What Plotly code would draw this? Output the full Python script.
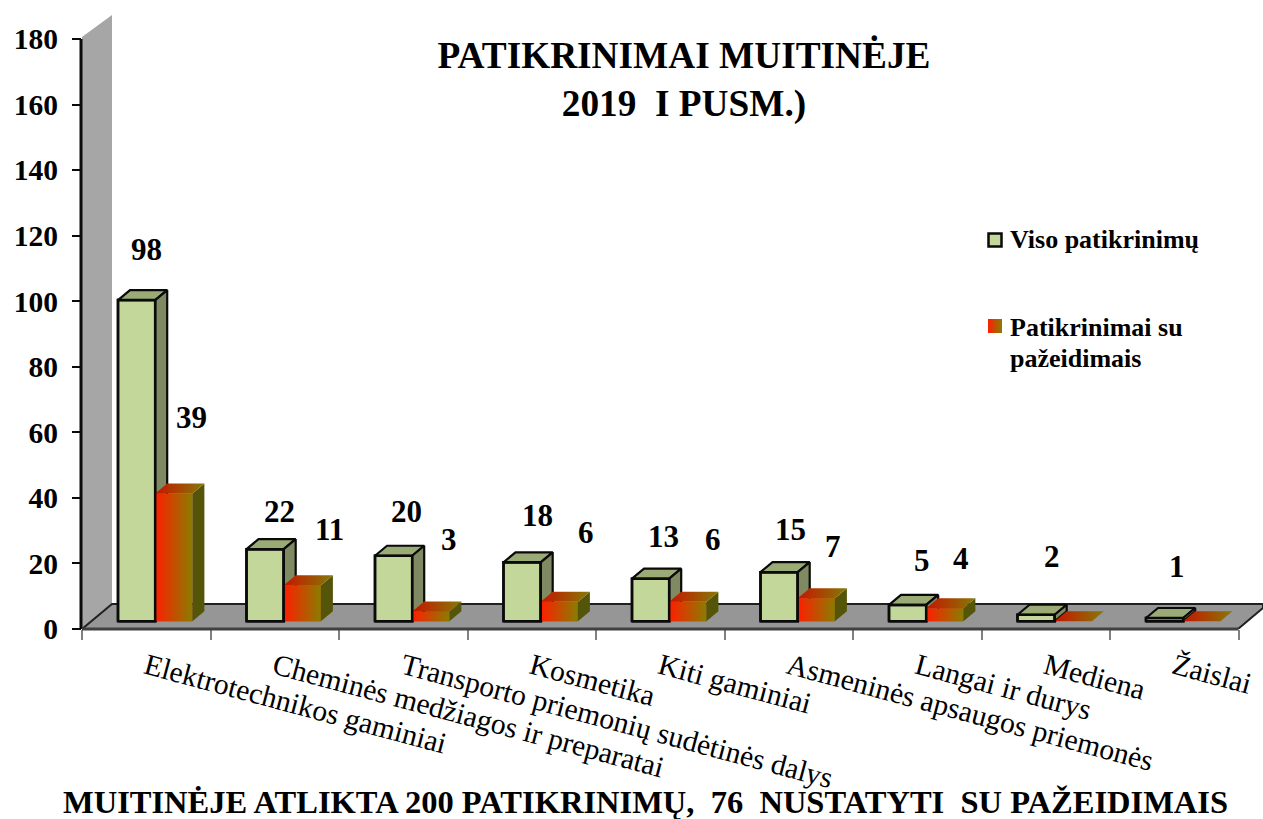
import plotly.graph_objects as go

categories = ["Elektrotechnikos gaminiai", "Cheminės medžiagos ir preparatai",
              "Transporto priemonių sudėtinės dalys", "Kosmetika", "Kiti gaminiai",
              "Asmeninės apsaugos priemonės", "Langai ir durys", "Mediena", "Žaislai"]
total_checks = [98, 22, 20, 18, 13, 15, 5, 2, 1]
violations = [39, 11, 3, 6, 6, 7, 4, 0, 0]
y_ticks = [0, 20, 40, 60, 80, 100, 120, 140, 160, 180]
legend_lines = [("Viso patikrinimų", 239), ("Patikrinimai su", 327), ("pažeidimais", 358)]
chart_title = "PATIKRINIMAI MUITINĖJE<br>2019  I PUSM.)"
bottom_title = "MUITINĖJE ATLIKTA 200 PATIKRINIMŲ,  76  NUSTATYTI  SU PAŽEIDIMAIS"

# label nudges in pixels (x, up) from the bar top
green_nudge = [(10, 51), (14, 38), (13, 44), (15, 47), (13, 42), (11, 43), (14, 44), (16, 58), (12, 52)]
red_nudge = [(18, 76), (27, 56), (18, 72), (27, 69), (25, 62), (17, 52), (16, 50)]

# layout geometry
W, H = 1263, 819
PX0, PY0 = 82, 629
XS, YS = 128.5, 3.278
ML, MB = PX0, H - PY0
def X(px): return -0.5 + (px - PX0) / XS
def Y(py): return (PY0 - py) / YS
def DX(px): return px / XS
xr = [-0.5, X(W)]
yr = [0, Y(0)]

base = Y(621.3)
g_off, bw = DX(118 - 82 - 64.25), DX(37.2)
ddx, ddy = DX(12), 10 / YS
FONT = "Liberation Serif"

GREEN, G_TOP, G_SIDE = "#c4d79b", "#9bab76", "#7f8a62"
R_L, R_R, R_SIDE = "#ff1e00", "#8a7d00", "#55550a"
RT_L, RT_R = "#c81400", "#857a06"
INK = "#0a0a0a"

fig = go.Figure()

# Bars through the library's own scale
xs = list(range(len(categories)))
fig.add_bar(x=xs, y=total_checks, base=base, width=bw, offset=g_off, showlegend=False,
            marker=dict(color=GREEN, line=dict(color=INK, width=2.5)), hoverinfo="skip")
fig.add_bar(x=xs, y=violations, base=base, width=bw, offset=g_off + bw, showlegend=False,
            marker=dict(color=R_L, line=dict(width=0)), hoverinfo="skip")

def poly(xv, yv, color=None, grad=None, line=None, lw=0):
    kw = dict(x=xv, y=yv, mode="lines", fill="toself", showlegend=False, hoverinfo="skip",
              line=dict(color=line or "rgba(0,0,0,0)", width=lw))
    if grad:
        kw["fillgradient"] = dict(type="horizontal", colorscale=[[0, grad[0]], [1, grad[1]]])
    else:
        kw["fillcolor"] = color
    fig.add_scatter(**kw)

for i, (g, r) in enumerate(zip(total_checks, violations)):
    x0 = i + g_off
    x1 = x0 + bw
    x2 = x1 + bw
    gt, rt = base + g, base + r
    # green top and side
    poly([x0, x0 + ddx, x1 + ddx, x1, x0], [gt, gt + ddy, gt + ddy, gt, gt], G_TOP, line=INK, lw=2.2)
    poly([x1, x1 + ddx, x1 + ddx, x1, x1], [gt, gt + ddy, base + ddy, base, gt], G_SIDE, line=INK, lw=2.2)
    # red front, side, top
    if r > 0:
        poly([x1, x2, x2, x1, x1], [base, base, rt, rt, base], grad=(R_L, R_R))
        poly([x2, x2 + ddx, x2 + ddx, x2, x2], [rt, rt + ddy, base + ddy, base, rt], R_SIDE)
    poly([x1, x1 + ddx, x2 + ddx, x2, x1], [rt, rt + ddy, rt + ddy, rt, rt], grad=(RT_L, RT_R))
    # green front outline on top
    fig.add_scatter(x=[x0, x1, x1, x0, x0], y=[base, base, gt, gt, base], mode="lines", showlegend=False,
                    hoverinfo="skip", line=dict(color=INK, width=2.5))

# legend swatches
fig.add_scatter(x=[X(995)], y=[Y(240)], mode="markers", showlegend=False, hoverinfo="skip",
                marker=dict(symbol="square", size=13, color=GREEN, line=dict(color=INK, width=2.5)))
fig.add_scatter(x=[X(995)], y=[Y(326)], mode="markers", showlegend=False, hoverinfo="skip",
                marker=dict(symbol="square", size=14, color=R_L, line=dict(width=0),
                            gradient=dict(type="horizontal", color=R_R)))

# wall and floor
wall = [(82, 629), (82, 37), (112, 15), (112, 604)]
floor = [(82, 629), (112, 604), (1263, 604), (1263, 608), (1238, 629)]
def path(pts):
    return "M " + " L ".join(f"{X(a):.4f} {Y(b):.3f}" for a, b in pts) + " Z"
shapes = [
    dict(type="path", path=path(wall), xref="x", yref="y", layer="below",
         fillcolor="#a6a6a6", line=dict(width=0)),
    dict(type="path", path=path(floor), xref="x", yref="y", layer="below",
         fillcolor="#969696", line=dict(color="#202020", width=2)),
    # y axis line
    dict(type="line", xref="paper", yref="y", x0=-1 / (W - ML), x1=-1 / (W - ML), y0=0, y1=180,
         layer="above", line=dict(color=INK, width=3)),
    # x axis line
    dict(type="line", xref="x", yref="paper", x0=-0.5, x1=8.5, y0=0, y1=0,
         layer="above", line=dict(color="#404040", width=3)),
]

ann = []
for i, g in enumerate(total_checks):
    ann.append(dict(x=i + g_off + bw / 2, y=base + g, text=str(g), showarrow=False, xshift=green_nudge[i][0],
                    yshift=green_nudge[i][1], xanchor="center", yanchor="middle",
                    font=dict(family=FONT, size=31, color="black", weight="bold")))
for i, r in enumerate(violations):
    if r > 0:
        ann.append(dict(x=i + g_off + 1.5 * bw, y=base + r, text=str(r), showarrow=False, xshift=red_nudge[i][0],
                        yshift=red_nudge[i][1], xanchor="center", yanchor="middle",
                        font=dict(family=FONT, size=31, color="black", weight="bold")))
ann.append(dict(xref="paper", yref="paper", x=(645 - ML) / (W - ML), y=(PY0 - 802) / PY0, text=bottom_title,
                showarrow=False, xanchor="center", yanchor="middle",
                font=dict(family=FONT, size=32.5, color="black", weight="bold")))
for name, py in legend_lines:
    ann.append(dict(xref="paper", yref="paper", x=(1008 - ML) / (W - ML), y=(PY0 - py) / PY0, text=name,
                    showarrow=False, xanchor="left", yanchor="middle", align="left",
                    font=dict(family=FONT, size=26, color="black", weight="bold")))

fig.update_layout(
    width=W, height=H, margin=dict(l=ML, r=0, t=0, b=MB, pad=0),
    paper_bgcolor="white", plot_bgcolor="rgba(0,0,0,0)",
    barmode="overlay", shapes=shapes, annotations=ann, showlegend=False,
    title=dict(text=chart_title, x=684 / W, xanchor="center", y=1 - 68 / H, yanchor="middle",
               font=dict(family=FONT, size=37.3, color="black", weight="bold")),
    xaxis=dict(range=xr, tickmode="array", tickvals=xs, ticktext=categories, tickangle=15, ticks="",
               showgrid=False, zeroline=False, showline=False, ticklabelstandoff=14,
               tickfont=dict(family=FONT, size=29.6, color="black"),
               minor=dict(tickmode="array", tickvals=[i - 0.5 for i in range(10)], ticks="outside",
                          ticklen=10, tickwidth=2, tickcolor="#808080", showgrid=False)),
    yaxis=dict(range=yr, tickmode="array", tickvals=y_ticks, ticks="outside", ticklen=9, tickwidth=2,
               tickcolor=INK, showgrid=False, zeroline=False, showline=False, ticklabelstandoff=8,
               tickfont=dict(family=FONT, size=29.5, color="black", weight="bold")),
)
fig.write_html("out.html", config=dict(displayModeBar=False),
               post_script="document.body.style.margin='0';document.documentElement.style.overflow='hidden';")
